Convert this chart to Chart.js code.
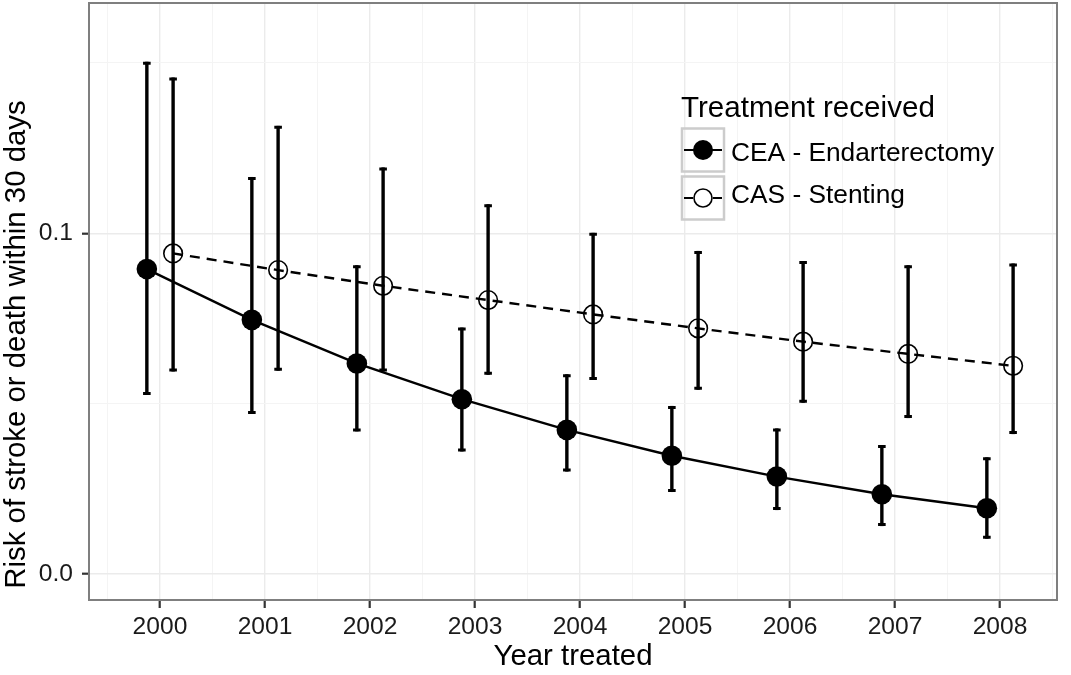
<!DOCTYPE html>
<html><head><meta charset="utf-8">
<script src="https://cdn.jsdelivr.net/npm/chart.js@4/dist/chart.umd.min.js"></script>
<style>html,body{margin:0;padding:0;background:#fff;overflow:hidden}canvas{display:block}</style>
</head><body>
<canvas id="c" width="1071" height="675"></canvas>
<script>
// ---- data ----
const years = [2000, 2001, 2002, 2003, 2004, 2005, 2006, 2007, 2008];
const yearLabels = ['2000','2001','2002','2003','2004','2005','2006','2007','2008'];
const ceaRisk  = [0.0895, 0.0746, 0.0618, 0.0513, 0.0423, 0.0347, 0.0286, 0.0234, 0.0193];
const ceaLower = [0.0530, 0.0474, 0.0423, 0.0364, 0.0305, 0.0245, 0.0192, 0.0145, 0.0108];
const ceaUpper = [0.1499, 0.1161, 0.0902, 0.0719, 0.0582, 0.0489, 0.0423, 0.0374, 0.0338];
const casRisk  = [0.0941, 0.0892, 0.0846, 0.0804, 0.0762, 0.0721, 0.0682, 0.0646, 0.0611];
const casLower = [0.0599, 0.0601, 0.0599, 0.0589, 0.0574, 0.0545, 0.0507, 0.0462, 0.0415];
const casUpper = [0.1453, 0.1311, 0.1189, 0.1081, 0.0997, 0.0944, 0.0914, 0.0902, 0.0907];
const seriesNames = ['CEA - Endarterectomy', 'CAS - Stenting'];
const legendTitle = 'Treatment received';
const xTitle = 'Year treated';
const yTitle = 'Risk of stroke or death within 30 days';
const yMajorTicks = [0.0, 0.1];
const yTickLabels = ['0.0', '0.1'];
const yMinorTicks = [0.05, 0.15];

// ---- layout / style ----
const DODGE = 0.125;
const FONT = "'Liberation Sans', Arial, Helvetica, sans-serif";
Chart.defaults.font.family = FONT;

const xMinorTicks = years.map(y => y - 0.5).concat([years[years.length - 1] + 0.5]);
const xAllTicks = years.concat(xMinorTicks).sort((a, b) => a - b);
const yAllTicks = yMajorTicks.concat(yMinorTicks).sort((a, b) => a - b);
const isXMajor = v => years.some(y => Math.abs(y - v) < 1e-6);
const isYMajor = v => yMajorTicks.some(y => Math.abs(y - v) < 1e-9);

const ceaPts = years.map((y, i) => ({ x: y - DODGE, y: ceaRisk[i] }));
const casPts = years.map((y, i) => ({ x: y + DODGE, y: casRisk[i] }));

const errorBars = {
  id: 'errorBars',
  beforeDatasetsDraw(chart) {
    const { ctx, scales: { x, y } } = chart;
    const sets = [[ceaLower, ceaUpper, -DODGE], [casLower, casUpper, DODGE]];
    ctx.save();
    ctx.strokeStyle = '#000';
    ctx.lineCap = 'butt';
    sets.forEach(([lo, hi, off]) => {
      years.forEach((yr, i) => {
        const px = x.getPixelForValue(yr + off);
        const y0 = y.getPixelForValue(lo[i]);
        const y1 = y.getPixelForValue(hi[i]);
        ctx.lineWidth = 3.4;
        ctx.beginPath(); ctx.moveTo(px, y0 + 1.5); ctx.lineTo(px, y1 - 1.5); ctx.stroke();
        ctx.lineWidth = 3;
        ctx.beginPath();
        ctx.moveTo(px - 3.8, y0); ctx.lineTo(px + 3.8, y0);
        ctx.moveTo(px - 3.8, y1); ctx.lineTo(px + 3.8, y1);
        ctx.stroke();
      });
    });
    ctx.restore();
  }
};

const decorations = {
  id: 'decorations',
  afterDraw(chart) {
    const { ctx, chartArea: a } = chart;
    ctx.save();
    // panel border
    ctx.strokeStyle = '#7f7f7f';
    ctx.lineWidth = 2;
    ctx.strokeRect(a.left, a.top, a.right - a.left, a.bottom - a.top);
    // y title
    ctx.fillStyle = '#000';
    ctx.font = '29.4px ' + FONT;
    ctx.textAlign = 'center';
    ctx.textBaseline = 'middle';
    ctx.save();
    ctx.translate(17, 344.5);
    ctx.rotate(-Math.PI / 2);
    ctx.fillText(yTitle, 0, 0);
    ctx.restore();
    // legend
    ctx.textAlign = 'left';
    ctx.textBaseline = 'alphabetic';
    ctx.font = '29.6px ' + FONT;
    ctx.fillText(legendTitle, 681, 117);
    const keys = [{ top: 128.5, filled: true, label: seriesNames[0], base: 161 },
                  { top: 176.5, filled: false, label: seriesNames[1], base: 203 }];
    keys.forEach(k => {
      ctx.strokeStyle = '#cccccc';
      ctx.lineWidth = 2.5;
      ctx.strokeRect(682, k.top, 42, 43);
      const cy = k.top + 21.5;
      ctx.strokeStyle = '#000';
      ctx.lineWidth = 2.2;
      if (k.filled) {
        ctx.beginPath(); ctx.moveTo(684, cy); ctx.lineTo(722, cy); ctx.stroke();
        ctx.beginPath(); ctx.arc(703, cy, 10, 0, Math.PI * 2);
        ctx.fillStyle = '#000'; ctx.fill();
      } else {
        ctx.beginPath(); ctx.moveTo(684, cy); ctx.lineTo(693, cy);
        ctx.moveTo(713, cy); ctx.lineTo(722, cy); ctx.stroke();
        ctx.beginPath(); ctx.arc(703, cy, 9, 0, Math.PI * 2);
        ctx.lineWidth = 1.6; ctx.stroke();
      }
      ctx.fillStyle = '#000';
      ctx.font = '26.3px ' + FONT;
      ctx.fillText(k.label, 731, k.base);
    });
    ctx.restore();
  }
};

new Chart(document.getElementById('c'), {
  type: 'scatter',
  data: {
    datasets: [
      { label: seriesNames[0], data: ceaPts, showLine: true, borderColor: '#000', borderWidth: 2.4,
        backgroundColor: '#000', pointRadius: 10.3, pointBorderWidth: 0, pointBackgroundColor: '#000' },
      { label: seriesNames[1], data: casPts, showLine: true, borderColor: '#000', borderWidth: 2.4,
        borderDash: [10, 7], pointRadius: 9.3, pointBorderWidth: 1.6,
        pointBackgroundColor: 'rgba(0,0,0,0)', pointBorderColor: '#000' }
    ]
  },
  options: {
    responsive: false,
    animation: false,
    devicePixelRatio: 1,
    layout: { autoPadding: false, padding: { top: 3, right: 14, left: 0, bottom: 0 } },
    plugins: { legend: { display: false }, tooltip: { enabled: false } },
    scales: {
      x: {
        type: 'linear', min: 1999.324, max: 2008.543,
        afterBuildTicks: s => { s.ticks = xAllTicks.map(v => ({ value: v })); },
        afterFit: s => { s.height = 75; s.paddingLeft = 0; s.paddingRight = 0; },
        border: { display: false },
        grid: {
          color: c => isXMajor(c.tick.value) ? '#ebebeb' : '#f4f4f4',
          lineWidth: c => isXMajor(c.tick.value) ? 1.4 : 1,
          tickColor: c => isXMajor(c.tick.value) ? '#333' : 'rgba(0,0,0,0)',
          tickWidth: 2.2, tickLength: 8
        },
        ticks: {
          autoSkip: false, maxRotation: 0, padding: 4, color: '#1a1a1a',
          font: { size: 24.6 },
          callback: v => { const i = years.findIndex(y => Math.abs(y - v) < 1e-6); return i >= 0 ? yearLabels[i] : ''; }
        },
        title: { display: true, text: xTitle, color: '#000', font: { size: 29.4 }, padding: { top: 0, bottom: 0 } }
      },
      y: {
        type: 'linear', min: -0.00763, max: 0.1676,
        afterBuildTicks: s => { s.ticks = yAllTicks.map(v => ({ value: v })); },
        afterFit: s => { s.width = 89; s.paddingTop = 0; s.paddingBottom = 0; },
        border: { display: false },
        grid: {
          color: c => isYMajor(c.tick.value) ? '#ebebeb' : '#f4f4f4',
          lineWidth: c => isYMajor(c.tick.value) ? 1.4 : 1,
          tickColor: c => isYMajor(c.tick.value) ? '#333' : 'rgba(0,0,0,0)',
          tickWidth: 2.2, tickLength: 7
        },
        ticks: {
          autoSkip: false, padding: 9, color: '#1a1a1a', font: { size: 24.6 },
          callback: v => { const i = yMajorTicks.findIndex(t => Math.abs(t - v) < 1e-9); return i >= 0 ? yTickLabels[i] : ''; }
        }
      }
    }
  },
  plugins: [errorBars, decorations]
});
</script>
</body></html>
